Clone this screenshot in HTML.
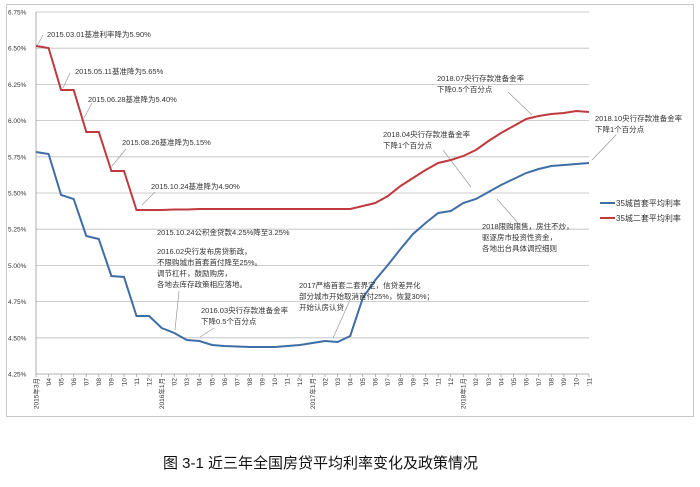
<!DOCTYPE html>
<html><head><meta charset="utf-8"><style>
body{margin:0;background:#fff;width:700px;height:487px;overflow:hidden}
svg{display:block}
text{font-family:"Liberation Sans","Noto Sans CJK SC",sans-serif;fill:#333}
</style></head><body>
<svg id="s" width="700" height="487" viewBox="0 0 700 487">
<rect x="6.5" y="4.5" width="687" height="412" fill="#fff" stroke="#c8c8c8"/>
<g id="grid"></g>
<g id="ticks"></g>
<g stroke="#999" stroke-width="0.7" fill="none">
<line x1="37" y1="46" x2="43" y2="35"/>
<line x1="63" y1="88" x2="70" y2="73"/>
<line x1="84" y1="118" x2="92" y2="103"/>
<line x1="112" y1="166" x2="126" y2="149"/>
<line x1="142" y1="205" x2="155" y2="192"/>
<line x1="175" y1="330" x2="179" y2="291"/>
<line x1="200" y1="337" x2="214" y2="328"/>
<line x1="333" y1="338" x2="350" y2="300"/>
<line x1="471" y1="187" x2="443" y2="150"/>
<line x1="532" y1="115" x2="508" y2="92"/>
<line x1="592" y1="160" x2="616" y2="135"/>
<line x1="497" y1="199" x2="518" y2="223"/>
</g>
<polyline id="red" fill="none" stroke="#c0393f" stroke-width="2"/>
<polyline id="blue" fill="none" stroke="#3f6ea6" stroke-width="2"/>
<g font-size="7.5">
<text x="47" y="37">2015.03.01基准利率降为5.90%</text>
<text x="75" y="74">2015.05.11基准降为5.65%</text>
<text x="88" y="102">2015.06.28基准降为5.40%</text>
<text x="122" y="145">2015.08.26基准降为5.15%</text>
<text x="151" y="189">2015.10.24基准降为4.90%</text>
<text x="157" y="235">2015.10.24公积金贷款4.25%降至3.25%</text>
<text x="157" y="254">2016.02央行发布房贷新政，</text>
<text x="157" y="265">不限购城市首套首付降至25%。</text>
<text x="157" y="276">调节杠杆，鼓励购房，</text>
<text x="157" y="287">各地去库存政策相应落地。</text>
<text x="201" y="313">2016.03央行存款准备金率</text>
<text x="201" y="324">下降0.5个百分点</text>
<text x="299" y="288">2017严格首套二套界定，信贷差异化</text>
<text x="299" y="299">部分城市开始取消首付25%，恢复30%；</text>
<text x="299" y="310">开始认房认贷</text>
<text x="383" y="137">2018.04央行存款准备金率</text>
<text x="383" y="148">下降1个百分点</text>
<text x="437" y="81">2018.07央行存款准备金率</text>
<text x="437" y="92">下降0.5个百分点</text>
<text x="595" y="121">2018.10央行存款准备金率</text>
<text x="595" y="132">下降1个百分点</text>
<text x="482" y="229">2018限购限售，房住不炒，</text>
<text x="482" y="240">驱逐房市投资性资金，</text>
<text x="482" y="251">各地出台具体调控细则</text>
</g>
<line x1="600" y1="203" x2="615" y2="203" stroke="#3f6ea6" stroke-width="2"/>
<line x1="600" y1="218" x2="615" y2="218" stroke="#c0393f" stroke-width="2"/>
<text x="616" y="206" font-size="8">35城首套平均利率</text>
<text x="616" y="221" font-size="8">35城二套平均利率</text>
<text x="163" y="468" font-size="15" fill="#111" style="fill:#111">图 3-1 近三年全国房贷平均利率变化及政策情况</text>
</svg>
<script>
var NS="http://www.w3.org/2000/svg";
function el(t,a,p,txt){var e=document.createElementNS(NS,t);for(var k in a)e.setAttribute(k,a[k]);if(txt)e.textContent=txt;document.getElementById(p).appendChild(e);return e;}
var x0=36,x1=589,step=(x1-x0)/44;
var labs=["6.75%","6.50%","6.25%","6.00%","5.75%","5.50%","5.25%","5.00%","4.75%","4.50%","4.25%"];
for(var i=0;i<11;i++){var y=12+i*36.2;
 if(i<10)el("line",{x1:x0,y1:y,x2:x1,y2:y,stroke:"#bdbdbd","stroke-width":0.8},"grid");
 el("text",{x:8,y:y+2.5,"font-size":6.5},"grid",labs[i]);}
el("line",{x1:x0,y1:12,x2:x0,y2:374,stroke:"#999","stroke-width":0.8},"grid");
el("line",{x1:x0,y1:374,x2:x1,y2:374,stroke:"#999","stroke-width":0.8},"grid");
var mo=["'01","'02","'03","'04","'05","'06","'07","'08","'09","'10","'11","'12"];
for(var i=0;i<45;i++){var m=(2+i)%12,yr=2015+Math.floor((2+i)/12);var x=x0+i*step;
 el("line",{x1:x,y1:374,x2:x,y2:377,stroke:"#999","stroke-width":0.7},"ticks");
 var t=(i==0)?"2015年3月":(m==0?yr+"年1月":mo[m]);
 el("text",{x:0,y:0,"font-size":6.5,"text-anchor":"end",transform:"translate("+(x+2.3)+",378) rotate(-90)"},"ticks",t);}
var red=[46,48,90,90,132,132,171,171,210,210,210,209.5,209.5,209,209,209,209,209,209,209,209,209,209,209,209,209,206,203,196,186,178,170,163,160,156,150,141,133,126,119,116,114,113,111,112];
var blue=[152,154,195,199,236,239,276,277,316,316,328,333,340,341,345,346,346.5,347,347,347,346,345,343,341,342,336,298,280,265,249,234,223,213,211,203,199,192,185,179,173,169,166,165,164,163];
function pts(a){return a.map(function(y,i){return (x0+i*step).toFixed(1)+","+y}).join(" ");}
document.getElementById("red").setAttribute("points",pts(red));
document.getElementById("blue").setAttribute("points",pts(blue));
</script>
</body></html>
